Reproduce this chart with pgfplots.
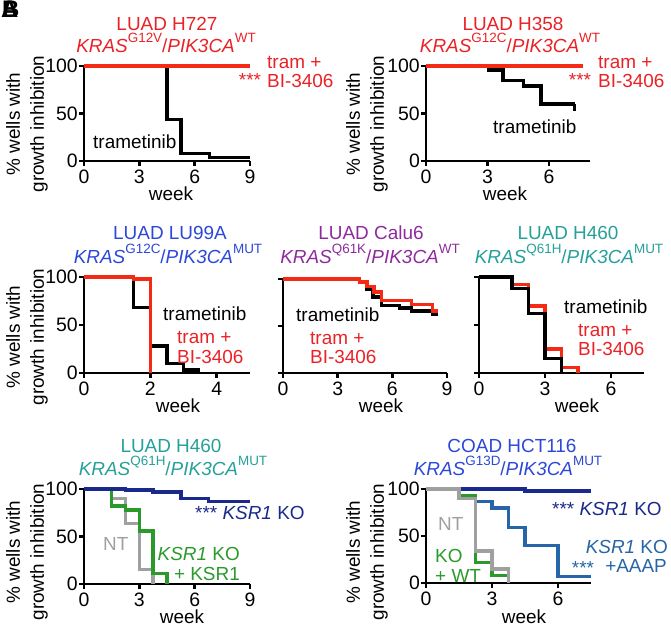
\documentclass[border=0pt]{standalone}
\usepackage{fontspec}
\setmainfont{Liberation Sans}
\usepackage{pgfplots}
\pgfplotsset{compat=1.18}

\definecolor{kred}{HTML}{F42A14}
\definecolor{tred}{HTML}{EA2226}
\definecolor{kblue}{HTML}{2C48D8}
\definecolor{kpurple}{HTML}{8E2A9E}
\definecolor{kteal}{HTML}{26A09A}
\definecolor{knavy}{HTML}{1A2A8C}
\definecolor{ksteel}{HTML}{2565A8}
\definecolor{kgreen}{HTML}{2A9A2A}
\definecolor{kgray}{HTML}{A0A0A0}

\newcommand\fs{\fontsize{19}{24}\selectfont}
\newcommand\sups[1]{\raisebox{0.5em}{\fontsize{13.5}{14}\selectfont #1}}
\newcommand\geno[2]{\textit{KRAS}\sups{#1}/\textit{PIK3CA}\sups{#2}}

\pgfplotsset{km/.style={
    scale only axis, anchor=south west, clip=false,
    axis lines*=left, axis line style={line width=2.8bp, black},
    every tick/.style={line width=2.6bp, black},
    tick align=outside, major tick length=5bp,
    ymin=0, ymax=100, ytick={0,50,100}, xmin=0,
    tick label style={font=\fontsize{19.5}{24}\selectfont},
    /pgf/number format/assume math mode=true,
    yticklabel style={inner sep=0pt, xshift=-1bp},
    xticklabel style={inner sep=0pt, yshift=-4bp},
  },
  km line/.style={const plot, line width=3.4bp, no marks}
}

\begin{document}
\fs
\begin{tikzpicture}[every node/.style={font=\fs, inner sep=0pt}]
\useasboundingbox (0,0) rectangle (671bp,-626bp);

% panel letter
\node[anchor=north west, font=\fontsize{24}{24}\selectfont\bfseries] at (1bp,-1bp) {A};
\node[anchor=north west, font=\fontsize{24}{24}\selectfont\bfseries] at (2bp,-1bp) {B};

% ---------- H727 ----------
\begin{axis}[km, at={(84bp,-161bp)}, width=166bp, height=95bp, xmax=9, xtick={0,3,6,9}]
\addplot[km line, black] coordinates {(0,100)(4.5,44)(5.25,8)(6.8,4)(9,4)};
\addplot[km line, kred] coordinates {(0,100)(9,100)};
\end{axis}
\node[tred, anchor=base] at (167bp,-30bp) {LUAD H727};
\node[tred, anchor=base] at (166bp,-52bp) {\geno{G12V}{WT}};
\node[anchor=base west] at (93bp,-148bp) {trametinib};
\node[tred, anchor=base west] at (267bp,-68bp) {tram +};
\node[tred, anchor=base west] at (267bp,-87bp) {BI-3406};
\node[tred, anchor=base] at (250bp,-86bp) {***};
\node[anchor=base] at (171bp,-200bp) {week};
\node[rotate=90, align=center] at (27bp,-124bp) {\% wells with\\growth inhibition};

% ---------- H358 ----------
\begin{axis}[km, at={(426bp,-161bp)}, width=164bp, height=95bp, xmax=8, xtick={0,3,6}]
\addplot[km line, black] coordinates {(0,100)(3.05,96)(3.75,85)(4.75,79)(5.6,60)(7.25,60)};
\addplot[black, line width=2.4bp] coordinates {(7.25,60)(7.25,53)};
\addplot[km line, kred] coordinates {(0,100)(7.65,100)};
\end{axis}
\node[tred, anchor=base] at (513bp,-30bp) {LUAD H358};
\node[tred, anchor=base] at (510bp,-52bp) {\geno{G12C}{WT}};
\node[anchor=base west] at (493bp,-133bp) {trametinib};
\node[tred, anchor=base west] at (598bp,-68bp) {tram +};
\node[tred, anchor=base west] at (598bp,-87bp) {BI-3406};
\node[tred, anchor=base] at (580bp,-86bp) {***};
\node[anchor=base] at (505bp,-200bp) {week};
\node[rotate=90, align=center] at (367bp,-124bp) {\% wells with\\growth inhibition};

% ---------- LU99A ----------
\begin{axis}[km, at={(84bp,-373bp)}, width=166bp, height=96bp, xmax=5, xtick={0,2,4}]
\addplot[km line, black] coordinates {(0,100)(1.5,68)(2.0,28)(2.5,10)(3.0,3)(3.5,3)};
\addplot[km line, kred] coordinates {(0,100)(1.5,98)(2.0,0)(2.0,0)};
\end{axis}
\node[kblue, anchor=base] at (170bp,-239bp) {LUAD LU99A};
\node[kblue, anchor=base] at (168bp,-263bp) {\geno{G12C}{MUT}};
\node[anchor=base west] at (163bp,-320bp) {trametinib};
\node[tred, anchor=base west] at (177bp,-343bp) {tram +};
\node[tred, anchor=base west] at (177bp,-363bp) {BI-3406};
\node[anchor=base] at (178bp,-412bp) {week};
\node[rotate=90, align=center] at (27bp,-337bp) {\% wells with\\growth inhibition};

% ---------- Calu6 ----------
\begin{axis}[km, at={(283bp,-373bp)}, width=164bp, height=94bp, xmax=9, xtick={0,3,6,9}, yticklabels={}]
\addplot[km line, black] coordinates {(0,100)(4.2,96)(4.6,89)(4.95,81)(5.4,72)(6.4,69)(7.05,66)(8.2,62)(8.5,62)};
\addplot[km line, kred] coordinates {(0,100)(4.2,97)(4.6,92)(5.0,86)(5.4,77)(7.05,73)(8.2,66)(8.5,66)};
\end{axis}
\node[kpurple, anchor=base] at (371bp,-239bp) {LUAD Calu6};
\node[kpurple, anchor=base] at (370bp,-263bp) {\geno{Q61K}{WT}};
\node[anchor=base west] at (296bp,-321bp) {trametinib};
\node[tred, anchor=base west] at (310bp,-344bp) {tram +};
\node[tred, anchor=base west] at (310bp,-363bp) {BI-3406};
\node[anchor=base] at (381bp,-412bp) {week};

% ---------- H460 (drug) ----------
\begin{axis}[km, at={(479bp,-373bp)}, width=165bp, height=96bp, xmax=7.5, xtick={0,3,6}, yticklabels={}]
\addplot[km line, kred] coordinates {(0,100)(1.5,92)(2.25,70)(3.0,25)(3.75,6)(4.5,0)(4.5,0)};
\addplot[km line, black] coordinates {(0,100)(1.5,88)(2.25,62)(3.0,15)(3.75,0)(3.75,0)};
\end{axis}
\node[kteal, anchor=base] at (568bp,-239bp) {LUAD H460};
\node[kteal, anchor=base] at (569bp,-263bp) {\geno{Q61H}{MUT}};
\node[anchor=base west] at (564bp,-313bp) {trametinib};
\node[tred, anchor=base west] at (578bp,-336bp) {tram +};
\node[tred, anchor=base west] at (578bp,-355bp) {BI-3406};
\node[anchor=base] at (577bp,-412bp) {week};

% ---------- H460 (KSR1) ----------
\begin{axis}[km, at={(84bp,-584bp)}, width=166bp, height=95bp, xmax=9, xtick={0,3,6,9}]
\addplot[km line, kgray] coordinates {(0,100)(1.5,90)(2.25,64)(3.0,15)(3.75,0)(3.75,0)};
\addplot[km line, kgreen] coordinates {(0,100)(1.5,82)(2.25,78)(3.0,56)(3.75,11)(4.5,0)(4.5,0)};
\addplot[km line, knavy] coordinates {(0,100)(2.25,99)(3.75,97)(5.25,90)(6.75,87)(9,87)};
\end{axis}
\node[kteal, anchor=base] at (171bp,-452bp) {LUAD H460};
\node[kteal, anchor=base] at (173bp,-475bp) {\geno{Q61H}{MUT}};
\node[knavy, anchor=base west] at (195bp,-519bp) {*** \textit{KSR1} KO};
\node[kgray, anchor=base west] at (103bp,-550bp) {NT};
\node[kgreen, anchor=base east] at (240bp,-560bp) {\textit{KSR1} KO};
\node[kgreen, anchor=base east] at (240bp,-580bp) {+ KSR1};
\node[anchor=base] at (182bp,-623bp) {week};
\node[rotate=90, align=center] at (27bp,-552bp) {\% wells with\\growth inhibition};

% ---------- HCT116 ----------
\begin{axis}[km, at={(426bp,-583bp)}, width=165bp, height=94bp, xmax=7.5, xtick={0,3,6}]
\addplot[km line, knavy] coordinates {(0,100)(4.5,98)(7.5,98)};
\addplot[km line, ksteel] coordinates {(0,100)(1.5,93)(2.25,87)(3.0,80)(3.75,59)(4.5,40)(6.0,7)(7.5,7)};
\addplot[km line, kgreen] coordinates {(0,100)(1.5,93)(2.25,22)(3.0,8)(3.75,0)(3.75,0)};
\addplot[km line, kgray] coordinates {(0,100)(1.5,90)(2.25,34)(3.0,15)(3.75,0)(3.75,0)};
\end{axis}
\node[kblue, anchor=base] at (512bp,-452bp) {COAD HCT116};
\node[kblue, anchor=base] at (508bp,-475bp) {\geno{G13D}{MUT}};
\node[knavy, anchor=base west] at (552bp,-515bp) {*** \textit{KSR1} KO};
\node[ksteel, anchor=base east] at (668bp,-553bp) {\textit{KSR1} KO};
\node[ksteel, anchor=base east] at (667bp,-572bp) {+AAAP};
\node[ksteel, anchor=base] at (583bp,-574bp) {***};
\node[kgray, anchor=base west] at (438bp,-530bp) {NT};
\node[kgreen, anchor=base west] at (435bp,-562bp) {KO};
\node[kgreen, anchor=base west] at (435bp,-582bp) {+ WT};
\node[anchor=base] at (524bp,-623bp) {week};
\node[rotate=90, align=center] at (367bp,-552bp) {\% wells with\\growth inhibition};

\end{tikzpicture}
\end{document}
